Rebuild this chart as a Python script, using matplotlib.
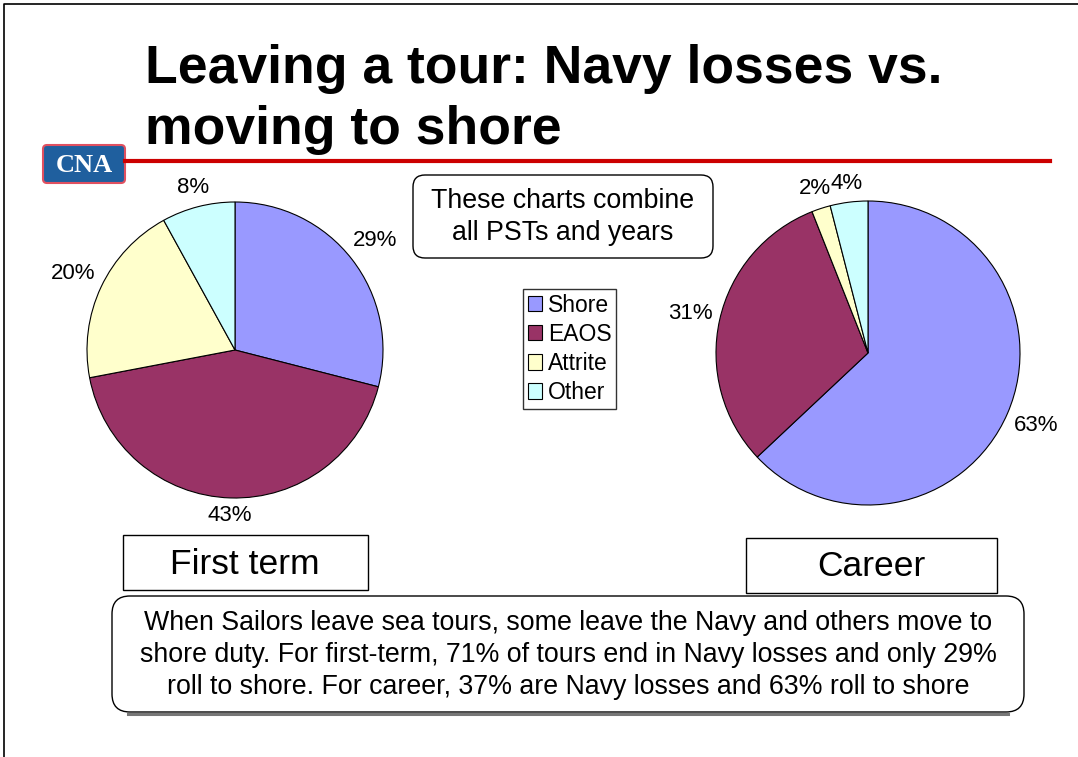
import numpy as np
import matplotlib
matplotlib.use("Agg")
import matplotlib.pyplot as plt
from matplotlib.patches import FancyBboxPatch, Rectangle

plt.rcParams['font.family'] = ['Liberation Sans', 'DejaVu Sans']

categories = ["Shore", "EAOS", "Attrite", "Other"]
first_term = [29, 43, 20, 8]
career = [63, 31, 2, 4]
colors = ["#9999FF", "#993366", "#FFFFCC", "#CCFFFF"]

W, H = 1078, 757
fig = plt.figure(figsize=(W / 100, H / 100), dpi=100)
fig.patch.set_facecolor("white")

# background axes in pixel coordinates
bg = fig.add_axes([0, 0, 1, 1])
bg.set_xlim(0, W)
bg.set_ylim(H, 0)
bg.axis("off")

# slide border
bg.plot([4, 4, W], [H, 4, 4], color="black", lw=1.2)

# title
bg.text(145, 44, "Leaving a tour: Navy losses vs.\nmoving to shore", fontsize=38.5,
        fontweight="bold", va="top", ha="left", linespacing=1.28)

# red rule + logo
bg.plot([125, 1050], [161, 161], color="#CC0000", lw=3)
logo = FancyBboxPatch((43, 145), 82, 38, boxstyle="round,pad=0,rounding_size=4",
                      fc="#1F5F9E", ec="#E05060", lw=1.5)
bg.add_patch(logo)
bg.text(84, 165, "CNA", color="white", fontsize=19, fontweight="bold",
        family="Liberation Serif", ha="center", va="center")

renderer = fig.canvas.get_renderer()


def draw_pie(cx, cy, r, values, gap=0.04):
    ax = fig.add_axes([(cx - r) / W, (H - cy - r) / H, 2 * r / W, 2 * r / H])
    wedges, texts, autotexts = ax.pie(
        values, colors=colors, startangle=90, counterclock=False,
        autopct="%1.0f%%", pctdistance=1.1,
        wedgeprops=dict(edgecolor="black", linewidth=0.8),
        textprops=dict(fontsize=16))
    ax.set_xlim(-1, 1)
    ax.set_ylim(-1, 1)
    # push each label out so its box sits just outside the slice edge
    for w, t in zip(wedges, autotexts):
        t.set_clip_on(False)
        theta = np.deg2rad((w.theta1 + w.theta2) / 2)
        bb = t.get_window_extent(renderer)
        hw = bb.width / 2 / r
        hh = bb.height / 2 / r
        d = 1 + gap + hw * abs(np.cos(theta)) + hh * abs(np.sin(theta))
        t.set_position((d * np.cos(theta), d * np.sin(theta)))
    return ax, wedges


ax1, wedges = draw_pie(235, 350, 148, first_term)
ax2, _ = draw_pie(868, 353, 152, career)

# legend
leg = fig.legend(wedges, categories, loc="upper left",
                 bbox_to_anchor=(523 / W, 1 - 289 / H), fontsize=16.5,
                 frameon=True, fancybox=False, edgecolor="black",
                 handlelength=0.65, handleheight=0.65, handletextpad=0.25,
                 labelspacing=0.27, borderpad=0.2, borderaxespad=0)
leg.get_frame().set_linewidth(1.0)

# note box
note = FancyBboxPatch((413, 175), 300, 83, boxstyle="round,pad=0,rounding_size=12",
                      fc="white", ec="black", lw=1.0)
bg.add_patch(note)
bg.text(563, 217, "These charts combine\nall PSTs and years", fontsize=19.3,
        ha="center", va="center", linespacing=1.3)

# chart labels
bg.add_patch(Rectangle((123, 535), 245, 55, fc="white", ec="black", lw=1.0))
bg.text(245, 564, "First term", fontsize=25.5, ha="center", va="center")
bg.add_patch(Rectangle((746, 538), 251, 55, fc="white", ec="black", lw=1.0))
bg.text(871, 567, "Career", fontsize=25.5, ha="center", va="center")

# summary box with a grey shadow along the bottom
bg.plot([128, 1008], [714, 714], color="#777777", lw=2.2)
summary = FancyBboxPatch((112, 596), 912, 116, boxstyle="round,pad=0,rounding_size=18",
                         fc="white", ec="black", lw=1.0)
bg.add_patch(summary)
bg.text(568, 655,
        "When Sailors leave sea tours, some leave the Navy and others move to\n"
        "shore duty. For first-term, 71% of tours end in Navy losses and only 29%\n"
        "roll to shore. For career, 37% are Navy losses and 63% roll to shore",
        fontsize=19.3, ha="center", va="center", linespacing=1.31)

fig.savefig("out.png", dpi=100, facecolor="white")
